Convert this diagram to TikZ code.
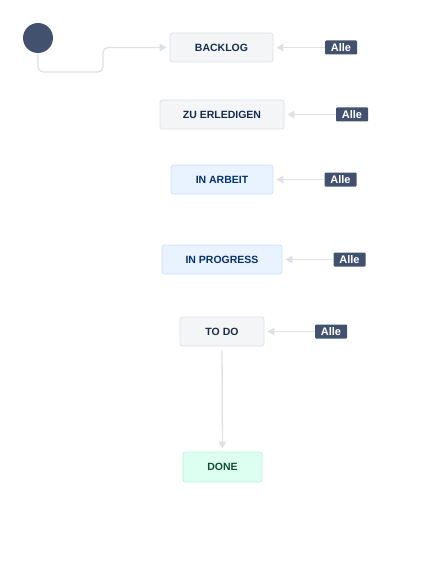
\documentclass[tikz,border=0pt]{standalone}
\usepackage{fontspec}
\setmainfont{Liberation Sans}
\usetikzlibrary{arrows.meta}
\definecolor{startc}{HTML}{42526E}
\definecolor{grayfill}{HTML}{F4F5F7}
\definecolor{grayline}{HTML}{DFE1E6}
\definecolor{graytext}{HTML}{172B4D}
\definecolor{bluefill}{HTML}{E9F2FF}
\definecolor{blueline}{HTML}{CCE0FF}
\definecolor{bluetext}{HTML}{09326C}
\definecolor{greenfill}{HTML}{DCFFF1}
\definecolor{greenline}{HTML}{BAF3DB}
\definecolor{greentext}{HTML}{164B35}
\definecolor{conn}{HTML}{DFE1E6}
\tikzset{
  status/.style={draw=grayline, fill=grayfill, text=graytext, rounded corners=2.5pt,
    line width=0.8pt, minimum height=29pt, inner sep=0pt,
    font=\fontsize{10.5}{12}\selectfont\bfseries},
  bluestatus/.style={status, draw=blueline, fill=bluefill, text=bluetext},
  greenstatus/.style={status, draw=greenline, fill=greenfill, text=greentext},
  alle/.style={fill=startc, text=white, rounded corners=1pt, minimum width=32pt,
    minimum height=14pt, inner sep=0pt, font=\fontsize{11}{12}\selectfont\bfseries},
  conn/.style={draw=conn, line width=1.3pt,
    -{Triangle[width=7.5pt,length=7pt,fill=conn]}, shorten >=3pt},
}
\begin{document}
\begin{tikzpicture}[x=1pt,y=-1pt]
\useasboundingbox (0,0) rectangle (427,564);
\node[circle, fill=startc, minimum size=30pt, inner sep=0pt] (start) at (38,38) {};
\node[status, minimum width=103pt] (backlog) at (221.5,47.5) {BACKLOG};
\node[status, minimum width=124pt] (zu) at (222,114.5) {ZU ERLEDIGEN};
\node[bluestatus, minimum width=102pt] (arbeit) at (222,179.5) {IN ARBEIT};
\node[bluestatus, minimum width=120pt] (progress) at (222,259.5) {IN PROGRESS};
\node[status, minimum width=84pt] (todo) at (222,331.5) {TO DO};
\node[greenstatus, minimum width=79pt, minimum height=30pt] (done) at (222.5,467) {DONE};
\node[alle] (a1) at (341,47.5) {Alle};
\node[alle] (a2) at (352,114.5) {Alle};
\node[alle] (a3) at (340.5,179.5) {Alle};
\node[alle] (a4) at (349.5,259.5) {Alle};
\node[alle] (a5) at (331,331.5) {Alle};
\coordinate (bend) at (103,72);
\draw[conn, rounded corners=5pt] (start.south) |- (bend) |- (backlog.west);
\draw[conn] (a1.west) -- (backlog.east);
\draw[conn] (a2.west) -- (zu.east);
\draw[conn] (a3.west) -- (arbeit.east);
\draw[conn] (a4.west) -- (progress.east);
\draw[conn] (a5.west) -- (todo.east);
\draw[conn, shorten <=4pt] (todo.south) -- (done.north);
\end{tikzpicture}
\end{document}
